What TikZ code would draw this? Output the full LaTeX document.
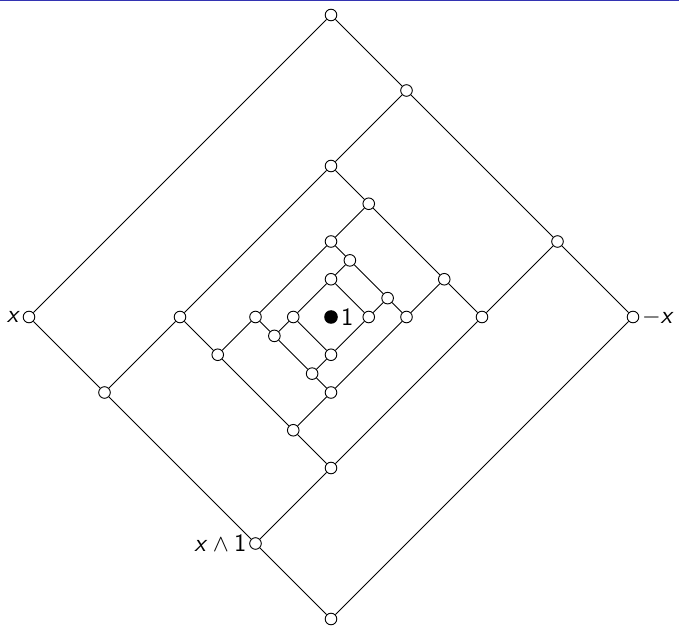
\documentclass[tikz,border=0pt]{standalone}
\usepackage{xcolor}
\usepackage{tikz}
\definecolor{framebar}{RGB}{51,51,178}

\begin{document}
\begin{tikzpicture}[
  x={(9.4375pt,9.4375pt)}, y={(-9.4375pt,9.4375pt)},
  lnode/.style={circle, draw, line width=0.45pt, minimum size=5.8pt, inner sep=0pt, fill=white},
  edge/.style={line width=0.45pt},
  lbl/.style={label distance=0pt, inner sep=1.2pt, font=\fontsize{12.5}{15}\selectfont\sffamily},
]
\useasboundingbox (-165.5pt,-154.5pt) rectangle (174pt,158.5pt);
\fill[framebar] (-165.5pt,157.9pt) rectangle (174pt,158.5pt);

% ring A
\node[lnode] (At) at (8,8) {};
\node[lnode, label={[lbl]left:\textit{x}}] (Al) at (-8,8) {};
\node[lnode, label={[lbl]right:$-\textsf{\textit{x}}$}] (Ar) at (8,-8) {};
\node[lnode] (Ab) at (-8,-8) {};
\node[lnode] (A1) at (8,4) {};
\node[lnode] (A2) at (8,-4) {};
\node[lnode] (A3) at (-8,4) {};
\node[lnode, label={[lbl]left:$\textsf{\textit{x}}\wedge\textsf{1}$}] (A4) at (-8,-4) {};

% ring B
\node[lnode] (Bt) at (4,4) {};
\node[lnode] (Bl) at (-4,4) {};
\node[lnode] (Br) at (4,-4) {};
\node[lnode] (Bb) at (-4,-4) {};
\node[lnode] (B1) at (4,2) {};
\node[lnode] (B2) at (4,-2) {};
\node[lnode] (B3) at (-4,2) {};
\node[lnode] (B4) at (-4,-2) {};

% ring C
\node[lnode] (Ct) at (2,2) {};
\node[lnode] (Cl) at (-2,2) {};
\node[lnode] (Cr) at (2,-2) {};
\node[lnode] (Cb) at (-2,-2) {};
\node[lnode] (C1) at (2,1) {};
\node[lnode] (C2) at (2,-1) {};
\node[lnode] (C3) at (-2,1) {};
\node[lnode] (C4) at (-2,-1) {};

% ring D
\node[lnode] (Dt) at (1,1) {};
\node[lnode] (Dl) at (-1,1) {};
\node[lnode] (Dr) at (1,-1) {};
\node[lnode] (Db) at (-1,-1) {};

% centre
\node[circle, fill, minimum size=6.8pt, inner sep=0pt, label={[lbl]right:1}] (one) at (0,0) {};

% edges
\draw[edge] (At) -- (A1) -- (A2) -- (Ar);
\draw[edge] (At) -- (Al);
\draw[edge] (Al) -- (A3) -- (A4) -- (Ab);
\draw[edge] (Ar) -- (Ab);

\draw[edge] (A3) -- (Bl) -- (Bt) -- (A1);
\draw[edge] (A4) -- (Bb) -- (Br) -- (A2);
\draw[edge] (Bt) -- (B1) -- (B2) -- (Br);
\draw[edge] (Bl) -- (B3) -- (B4) -- (Bb);

\draw[edge] (B3) -- (Cl) -- (Ct) -- (B1);
\draw[edge] (B4) -- (Cb) -- (Cr) -- (B2);
\draw[edge] (Ct) -- (C1) -- (C2) -- (Cr);
\draw[edge] (Cl) -- (C3) -- (C4) -- (Cb);

\draw[edge] (C3) -- (Dl) -- (Dt) -- (C1);
\draw[edge] (C4) -- (Db) -- (Dr) -- (C2);
\draw[edge] (Dt) -- (Dr);
\draw[edge] (Dl) -- (Db);
\end{tikzpicture}
\end{document}
